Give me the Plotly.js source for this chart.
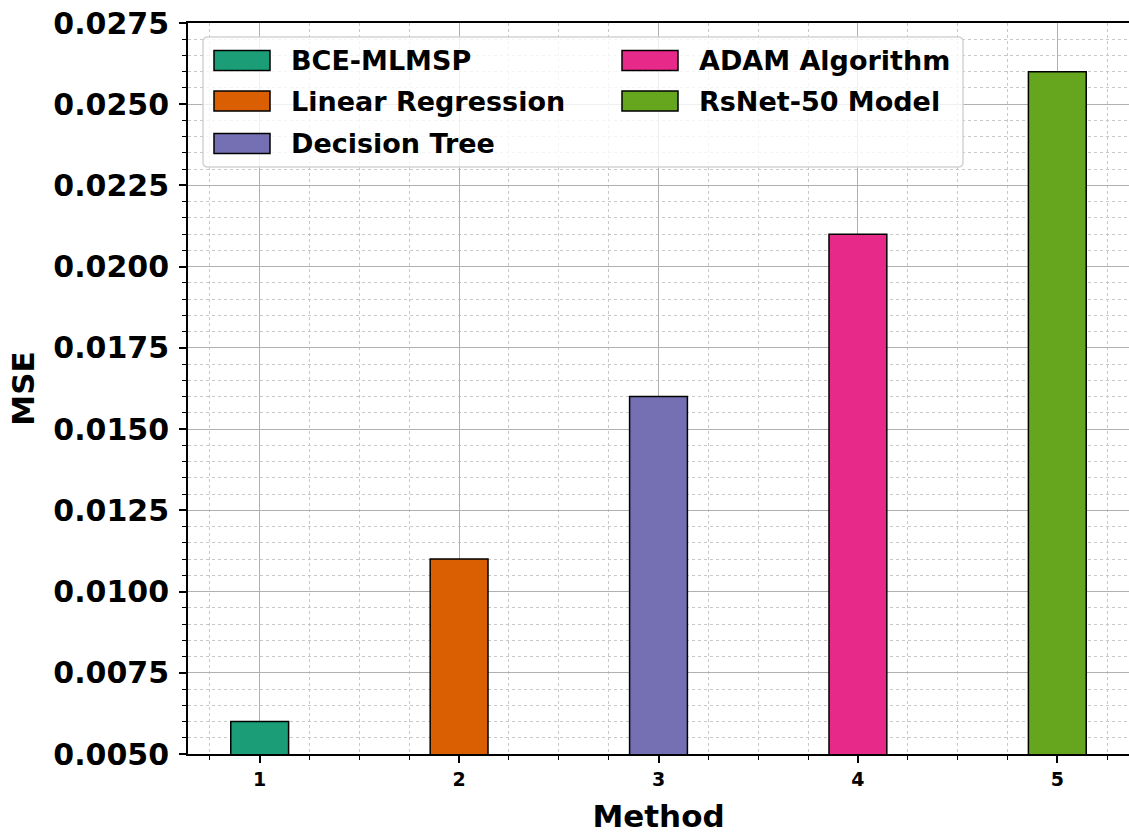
<!DOCTYPE html>
<html>
<head>
<meta charset="utf-8">
<script src="https://cdn.plot.ly/plotly-3.0.1.min.js"></script>
<style>html,body{margin:0;padding:0;background:#fff;}#chart{width:1129px;height:834px;}</style>
</head>
<body>
<div id="chart"></div>
<script>
const methods = ["BCE-MLMSP", "Linear Regression", "Decision Tree", "ADAM Algorithm", "RsNet-50 Model"];
const positions = [1, 2, 3, 4, 5];
const mse = [0.0060, 0.0110, 0.0160, 0.0210, 0.0260];
const colors = ["#1b9e77", "#d95f02", "#7570b3", "#e7298a", "#66a61e"];
const yTicks = [0.0050, 0.0075, 0.0100, 0.0125, 0.0150, 0.0175, 0.0200, 0.0225, 0.0250, 0.0275];

const FONT = "DejaVu Sans, Liberation Sans, sans-serif";
const L = 188, R = 1129, T = 23, B = 754;
const px = v => (v - L) / (R - L);
const py = v => (B - v) / (B - T);

const traces = methods.map((m, i) => ({
  type: "bar",
  name: m,
  x: [positions[i]],
  y: [mse[i]],
  width: 0.29,
  marker: {color: colors[i], line: {color: "#000", width: 1.5}},
  showlegend: false,
  hoverinfo: "x+y"
}));

// custom matplotlib-like legend
const shapes = [];
const annotations = [];
const x0 = px(203), x1 = px(963), y0 = py(37), y1 = py(167);
const rx = 5 / (R - L), ry = 5 / (B - T);
shapes.push({
  type: "path", xref: "paper", yref: "paper", layer: "above",
  path: `M ${x0 + rx},${y0} L ${x1 - rx},${y0} Q ${x1},${y0} ${x1},${y0 - ry} L ${x1},${y1 + ry} Q ${x1},${y1} ${x1 - rx},${y1} L ${x0 + rx},${y1} Q ${x0},${y1} ${x0},${y1 + ry} L ${x0},${y0 - ry} Q ${x0},${y0} ${x0 + rx},${y0} Z`,
  fillcolor: "rgba(255,255,255,0.8)",
  line: {color: "#d3d3d3", width: 1.5}
});
const colPatchX = [214, 622];
const colTextX = [289, 697];
const rowCY = [60.5, 101, 143.5];
methods.forEach((m, i) => {
  const col = i < 3 ? 0 : 1;
  const row = i < 3 ? i : i - 3;
  const cy = rowCY[row];
  shapes.push({
    type: "rect", xref: "paper", yref: "paper", layer: "above",
    x0: px(colPatchX[col]), x1: px(colPatchX[col] + 56),
    y0: py(cy - 10), y1: py(cy + 10),
    fillcolor: colors[i], line: {color: "#000", width: 1.5}
  });
  annotations.push({
    xref: "paper", yref: "paper", x: px(colTextX[col]), y: py(cy),
    xanchor: "left", yanchor: "middle", showarrow: false,
    text: m, font: {family: FONT, size: 27, weight: "bold", color: "#000"}
  });
});

const layout = {
  width: 1129, height: 834,
  margin: {l: L, r: 1129 - R, t: T, b: 834 - B},
  paper_bgcolor: "#fff", plot_bgcolor: "#fff",
  barmode: "overlay",
  showlegend: false,
  font: {family: FONT, color: "#000"},
  xaxis: {
    range: [0.6405, 5.3595],
    tickvals: positions, ticktext: positions.map(String),
    ticks: "outside", ticklen: 7, tickwidth: 1.5, tickcolor: "#000",
    tickfont: {family: FONT, size: 19, weight: "bold", color: "#000"},
    showline: true, linecolor: "#000", linewidth: 1.8, mirror: true,
    showgrid: true, gridcolor: "#b0b0b0", gridwidth: 1,
    zeroline: false,
    minor: {dtick: 0.25, tick0: 0, ticks: "outside", ticklen: 4, tickwidth: 1.2, tickcolor: "#000",
            showgrid: true, gridcolor: "#c8c8c8", gridwidth: 1, griddash: "dot"},
    title: {text: "Method", font: {family: FONT, size: 31, weight: "bold", color: "#000"}, standoff: 21},
    automargin: false
  },
  yaxis: {
    range: [0.005, 0.0275],
    tickvals: yTicks, ticktext: yTicks.map(v => v.toFixed(4)),
    ticks: "outside", ticklen: 7, tickwidth: 1.5, tickcolor: "#000",
    tickfont: {family: FONT, size: 30, weight: "bold", color: "#000"},
    ticklabelstandoff: 4,
    showline: true, linecolor: "#000", linewidth: 1.8, mirror: false,
    showgrid: true, gridcolor: "#b0b0b0", gridwidth: 1,
    zeroline: false,
    minor: {dtick: 0.0005, tick0: 0, ticks: "outside", ticklen: 4, tickwidth: 1.2, tickcolor: "#000",
            showgrid: true, gridcolor: "#c8c8c8", gridwidth: 1, griddash: "dot"},
    title: {text: "MSE", font: {family: FONT, size: 31, weight: "bold", color: "#000"}, standoff: 9},
    automargin: false
  },
  shapes: shapes,
  annotations: annotations
};

Plotly.newPlot("chart", traces, layout, {displayModeBar: false, responsive: false});
</script>
</body>
</html>
